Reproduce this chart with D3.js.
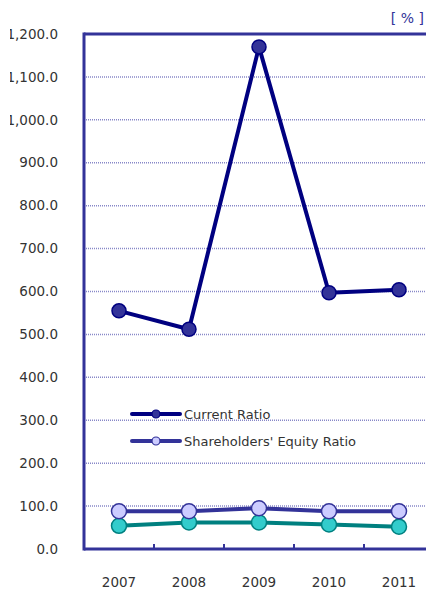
<!DOCTYPE html>
<html><head><meta charset="utf-8">
<script src="https://cdn.jsdelivr.net/npm/d3@7"></script>
<style>body{margin:0;background:#fff;}svg{display:block;font-family:"DejaVu Sans",Verdana,sans-serif;}</style>
</head><body>
<svg id="c" width="426" height="590"></svg>
<script>
const years = ["2007","2008","2009","2010","2011"];
const currentRatio = [555, 512, 1170, 597, 604];
const equityRatio = [88, 88, 95, 88, 88];
const otherRatio = [54, 62, 62, 57, 52];
const yTicks = [0,100,200,300,400,500,600,700,800,900,1000,1100,1200];

(function(){
const svg = d3.select("#c");
const mLeft = 84, mTop = 34, mBottom = 549, mRight = 434;
const x = d3.scaleBand().domain(years).range([mLeft, mRight]);
const y = d3.scaleLinear().domain([0, 1200]).range([mBottom, mTop]);

svg.append("defs").append("clipPath").attr("id", "lblclip")
  .attr("clipPathUnits", "userSpaceOnUse")
  .append("rect").attr("x", 10).attr("y", 0).attr("width", 80).attr("height", 590);

// gridlines
svg.append("g").selectAll("line").data(yTicks.filter(d => d > 0 && d < 1200)).join("line")
  .attr("x1", mLeft).attr("x2", 426).attr("y1", d => y(d)).attr("y2", d => y(d))
  .attr("stroke", "#8888c8").attr("stroke-width", 1.5).attr("stroke-dasharray", "1,1");

// y labels
svg.append("g").attr("clip-path", "url(#lblclip)").selectAll("text").data(yTicks).join("text")
  .attr("x", 58).attr("y", d => y(d)).attr("dy", "0.35em").attr("text-anchor", "end")
  .attr("font-size", 13.5).attr("fill", "#333").text(d => d3.format(",.1f")(d));

// x ticks (band boundaries)
svg.append("g").selectAll("line").data(years.slice(1)).join("line")
  .attr("x1", d => x(d)).attr("x2", d => x(d)).attr("y1", mBottom).attr("y2", mBottom - 5)
  .attr("stroke", "#333399").attr("stroke-width", 2);

// x labels
svg.append("g").selectAll("text").data(years).join("text")
  .attr("x", d => x(d) + x.bandwidth() / 2).attr("y", 587).attr("text-anchor", "middle")
  .attr("font-size", 13.5).attr("fill", "#333").text(d => d);

// axes frame
svg.append("line").attr("x1", mLeft).attr("x2", mLeft).attr("y1", mTop - 1.5).attr("y2", mBottom + 1.5)
  .attr("stroke", "#333399").attr("stroke-width", 3);
svg.append("line").attr("x1", mLeft).attr("x2", 426).attr("y1", mTop).attr("y2", mTop)
  .attr("stroke", "#333399").attr("stroke-width", 3);
svg.append("line").attr("x1", mLeft).attr("x2", 426).attr("y1", mBottom).attr("y2", mBottom)
  .attr("stroke", "#333399").attr("stroke-width", 3);

svg.append("text").attr("x", 424).attr("y", 23).attr("text-anchor", "end")
  .attr("font-size", 14).attr("fill", "#333399").text("[ % ]");

const cx = d => x(d) + x.bandwidth() / 2;
function series(vals, lineColor, fill, stroke, r) {
  const pts = years.map((yr, i) => [cx(yr), y(vals[i])]);
  svg.append("path").attr("d", d3.line()(pts)).attr("fill", "none")
    .attr("stroke", lineColor).attr("stroke-width", 4).attr("stroke-linejoin", "round");
  svg.append("g").selectAll("circle").data(pts).join("circle")
    .attr("cx", d => d[0]).attr("cy", d => d[1]).attr("r", r)
    .attr("fill", fill).attr("stroke", stroke).attr("stroke-width", 1.5);
}
series(otherRatio, "#008080", "#33cccc", "#008080", 7.5);
series(equityRatio, "#333399", "#ccccff", "#333399", 7.5);
series(currentRatio, "#000080", "#333399", "#000080", 7);

// legend
const legend = [
  {name: "Current Ratio", line: "#000080", fill: "#333399", stroke: "#000080", y: 414},
  {name: "Shareholders' Equity Ratio", line: "#333399", fill: "#ccccff", stroke: "#333399", y: 441}
];
const lg = svg.append("g").selectAll("g").data(legend).join("g");
lg.append("line").attr("x1", 132).attr("x2", 180).attr("y1", d => d.y).attr("y2", d => d.y)
  .attr("stroke", d => d.line).attr("stroke-width", 4).attr("stroke-linecap", "round");
lg.append("circle").attr("cx", 156).attr("cy", d => d.y).attr("r", 4)
  .attr("fill", d => d.fill).attr("stroke", d => d.stroke).attr("stroke-width", 1.2);
lg.append("text").attr("x", 184).attr("y", d => d.y).attr("dy", "0.36em")
  .attr("font-size", 13).attr("fill", "#333").text(d => d.name);
})();
</script>
</body></html>
